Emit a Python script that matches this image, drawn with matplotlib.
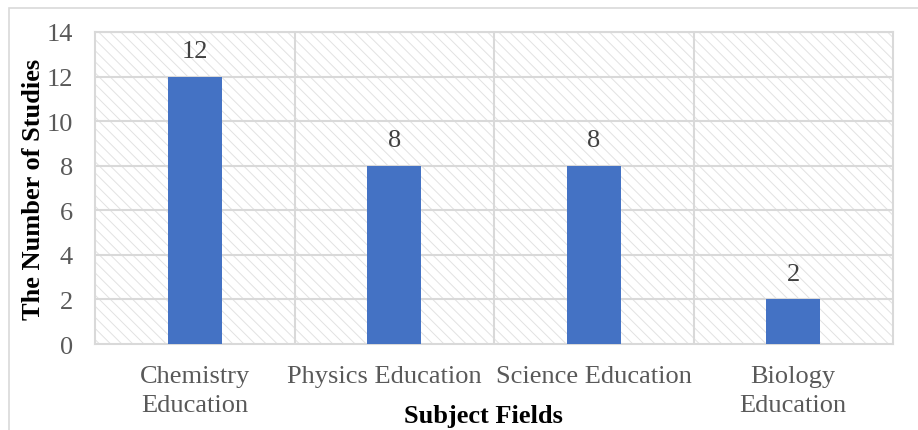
import matplotlib.pyplot as plt
from matplotlib.patches import Rectangle
from matplotlib.transforms import ScaledTranslation

subjects = ["Chemistry\nEducation", "Physics Education", "Science Education", "Biology\nEducation"]
studies = [12, 8, 8, 2]
y_ticks = [0, 2, 4, 6, 8, 10, 12, 14]

plt.rcParams["font.family"] = ["Liberation Serif", "DejaVu Serif"]
plt.rcParams["hatch.linewidth"] = 0.7

W, H = 918, 431
fs = 19
fig = plt.figure(figsize=(W / 100, H / 100), dpi=100)
ax = fig.add_axes([95 / W, 1 - 345 / H, (893 - 95) / W, (345 - 33) / H])

grid_col = "#d9d9d9"

# diagonal hatched background of the plot area
ax.add_patch(Rectangle((0, 0), 1, 1, transform=ax.transAxes, facecolor="none",
                       edgecolor="#e2e2e2", linewidth=0, hatch="\\\\\\", zorder=0))

x = range(len(subjects))
bars = ax.bar(x, studies, width=0.27, color="#4472c4", zorder=3)
for b, v in zip(bars, studies):
    ax.text(b.get_x() + b.get_width() / 2, v + 0.65, str(v), ha="center", va="bottom",
            fontsize=fs, color="#404040", zorder=4)

ax.set_xlim(-0.5, len(subjects) - 0.5)
ax.set_ylim(0, 14)
ax.set_yticks(y_ticks)
ax.set_xticks(list(x))
ax.set_xticklabels(subjects)
ax.tick_params(axis="both", length=0, labelsize=fs, labelcolor="#595959")
ax.tick_params(axis="y", pad=16)
ax.tick_params(axis="x", pad=15)
for lab in ax.get_xticklabels():
    lab.set_linespacing(1.45)
# nudge the long one-line label left so it doesn't crowd its neighbour
phys = ax.get_xticklabels()[1]
phys.set_transform(phys.get_transform() + ScaledTranslation(-0.1, 0, fig.dpi_scale_trans))

# horizontal gridlines and category separators
for yv in y_ticks[1:]:
    ax.axhline(yv, color=grid_col, linewidth=1.5, zorder=1)
for xv in [0.5, 1.5, 2.5]:
    ax.axvline(xv, color=grid_col, linewidth=1.5, zorder=1)
for s in ax.spines.values():
    s.set_color(grid_col)
    s.set_linewidth(1.5)

ax.set_ylabel("The Number of Studies", fontsize=fs, fontweight="bold", color="black", labelpad=1)
fig.text(483 / W, 1 - 417 / H, "Subject Fields", ha="center", va="center",
         fontsize=fs, fontweight="bold", color="black")

# outer chart frame
fig.add_artist(Rectangle((9 / W, -0.1), 1.2, 1 - 9 / H + 0.1, transform=fig.transFigure,
                         facecolor="none", edgecolor="#d9d9d9", linewidth=1.2))

fig.savefig("out.png", dpi=100)
